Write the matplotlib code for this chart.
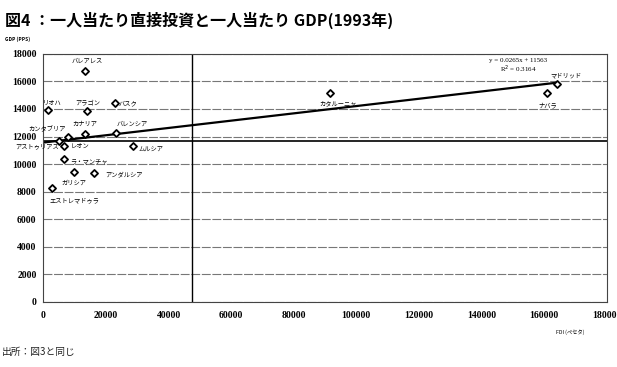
import matplotlib
matplotlib.use("Agg")
import matplotlib.pyplot as plt

plt.rcParams['font.family'] = ['Noto Sans CJK JP', 'DejaVu Sans']

# regions: per-capita FDI (pesetas) vs per-capita GDP (PPS), 1993
regions = ['バレアレス', 'リオハ', 'アラゴン', 'バスク', 'カナリア', 'バレンシア',
           'カンタブリア', 'アストゥリアス', 'レオン', 'ムルシア', 'ラ・マンチャ',
           'ガリシア', 'アンダルシア', 'エストレマドゥラ', 'カタルーニャ',
           'マドリッド', 'ナバラ']
fdi = [13400, 1400, 14000, 22900, 13200, 23100, 7800, 4900, 6700, 28700, 6700,
       9600, 16200, 2800, 91600, 164300, 160900]
gdp = [16790, 13930, 13860, 14420, 12190, 12260, 11990, 11680, 11310, 11310,
       10370, 9430, 9370, 8240, 15190, 15800, 15150]
# label offsets in points (dx, dy)
offsets = [(1, 7), (3, 5), (0, 6), (9.5, 0), (0, 7), (11.5, 6.5),
           (-15, 5), (-15.6, -3.6), (11, 0), (13, -3), (18, -2.7),
           (0.5, -8), (21.5, -1.7), (16, -8.4), (6, -7.4), (6.3, 6.7), (0.5, -8.7)]

slope = 0.0265
intercept = 11563
r2 = 0.3164
fdi_mean = 47500
gdp_mean = 11700

fig = plt.figure(figsize=(6.17, 3.67), dpi=100)
ax = fig.add_axes([0.0705, 0.178, 0.9125, 0.675])

ax.set_xlim(0, 180000)
ax.set_ylim(0, 18000)
ax.set_yticks(range(0, 18001, 2000))
ax.set_xticks(range(0, 180001, 20000))
ax.yaxis.grid(True, color='#777777', linewidth=0.8, linestyle=(0, (8, 1.5)))
ax.set_axisbelow(True)
for s in ax.spines.values():
    s.set_color('#444444')
    s.set_linewidth(0.8)
ax.tick_params(length=0)
ax.tick_params(axis='x', pad=7)
ax.tick_params(axis='y', pad=5)
for lab in ax.get_xticklabels() + ax.get_yticklabels():
    lab.set_fontfamily('Liberation Serif')
    lab.set_fontweight('bold')
    lab.set_fontsize(7)

ax.axvline(fdi_mean, color='black', linewidth=1.0)
ax.axhline(gdp_mean, color='black', linewidth=1.2)

xs = [0, max(fdi)]
ax.plot(xs, [slope * v + intercept for v in xs], color='black', linewidth=1.6)

ax.scatter(fdi, gdp, marker='D', s=13, facecolor='white', edgecolor='black',
           linewidth=1.3, zorder=3)
for name, x, y, (dx, dy) in zip(regions, fdi, gdp, offsets):
    ax.annotate(name, (x, y), xytext=(dx, dy), textcoords='offset points',
                ha='center', va='center', fontsize=4.5, annotation_clip=False)

ax.text(0.843, 0.973, f'y = {slope}x + {intercept}', transform=ax.transAxes,
        ha='center', va='center', fontsize=5, fontfamily='Liberation Serif')
ax.text(0.843, 0.938, f'R$^2$ = {r2}', transform=ax.transAxes,
        ha='center', va='center', fontsize=5, fontfamily='Liberation Serif')

fig.text(0.008, 0.945, '図4 ：一人当たり直接投資と一人当たり GDP(1993年)',
         fontsize=11.5, fontweight='bold', va='center')
fig.text(0.008, 0.893, 'GDP (PPS)', fontsize=3.5, fontweight='bold', va='center')
fig.text(0.924, 0.095, 'FDI (ペセタ)', fontsize=3.8, va='center', ha='center')
fig.text(0.003, 0.04, '出所：図3と同じ', fontsize=7, va='center', color='#222222')

fig.savefig('out.png', dpi=100)
